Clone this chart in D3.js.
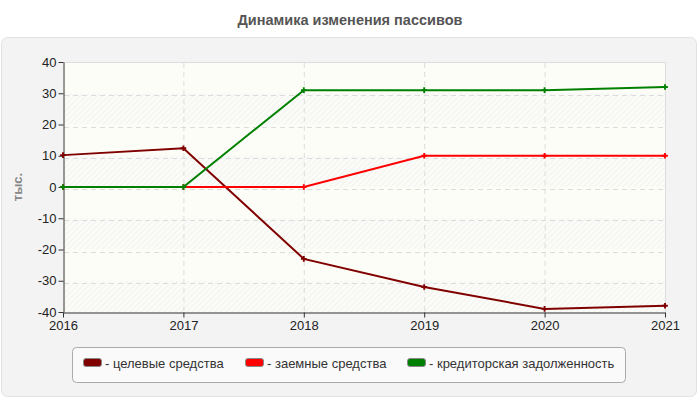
<!DOCTYPE html>
<html>
<head>
<meta charset="utf-8">
<script src="https://cdn.jsdelivr.net/npm/d3@7"></script>
<style>
  body { margin: 0; background: #fff; }
  text { font-family: "Liberation Sans", Arial, sans-serif; }
</style>
</head>
<body>
<svg id="chart" width="700" height="400"></svg>
<script>
const years = [2016, 2017, 2018, 2019, 2020, 2021];
const yTicks = [-40, -30, -20, -10, 0, 10, 20, 30, 40];
const targetFunds = [10.2, 12.4, -23, -32, -39, -38];
const borrowedFunds = [0, 0, 0, 10, 10, 10];
const payables = [0, 0, 31, 31, 31, 32];
const seriesNames = ["- целевые средства", "- заемные средства", "- кредиторская задолженность"];
const seriesColors = ["#800000", "#ff0000", "#008000"];

const series = [targetFunds, borrowedFunds, payables].map((v, i) => ({
  name: seriesNames[i], color: seriesColors[i], values: v
}));

const FONT = "'Liberation Sans', Arial, sans-serif";
const svg = d3.select("#chart");

// outer panel
svg.append("rect")
  .attr("x", 1.5).attr("y", 37.5).attr("width", 695).attr("height", 359)
  .attr("rx", 6).attr("fill", "#f3f3f3").attr("stroke", "#e2e2e2");

svg.append("text")
  .attr("x", 350).attr("y", 25)
  .attr("text-anchor", "middle")
  .attr("font-size", 14.5).attr("font-weight", "bold").attr("fill", "#555")
  .text("Динамика изменения пассивов");

const x = d3.scalePoint().domain(years).range([63, 665]);
const y = d3.scaleLinear().domain([-40, 40]).range([312, 62]);

// hatch pattern
const defs = svg.append("defs");
const pat = defs.append("pattern")
  .attr("id", "hatch").attr("width", 4).attr("height", 4)
  .attr("patternUnits", "userSpaceOnUse")
  .attr("patternTransform", "rotate(45)");
pat.append("rect").attr("width", 4).attr("height", 4).attr("fill", "#fbfbf8");
pat.append("line").attr("x1", 0).attr("y1", 0).attr("x2", 0).attr("y2", 4)
  .attr("stroke", "#ececec").attr("stroke-width", 1.2);

const plot = svg.append("g");
plot.append("rect")
  .attr("x", 63).attr("y", 62).attr("width", 602).attr("height", 250)
  .attr("fill", "#fdfdf7");

// alternating bands
plot.selectAll(".band")
  .data(yTicks.slice(0, -1).filter((d, i) => i % 2 === 0))
  .enter().append("rect")
  .attr("x", 63).attr("width", 602)
  .attr("y", d => y(d + 10)).attr("height", d => y(d) - y(d + 10))
  .attr("fill", "url(#hatch)");

// plot border top/right
plot.append("path")
  .attr("d", `M63,${y(40) + 0.5}H${665.5}V312`)
  .attr("fill", "none").attr("stroke", "#dddddd");

// grid
plot.selectAll(".hgrid")
  .data(yTicks.slice(1, -1))
  .enter().append("line")
  .attr("x1", 64).attr("x2", 665)
  .attr("y1", d => Math.round(y(d)) + 2.5).attr("y2", d => Math.round(y(d)) + 2.5)
  .attr("stroke", "#dcdcdc").attr("stroke-dasharray", "5,4");

plot.selectAll(".vgrid")
  .data(years.slice(1, -1))
  .enter().append("line")
  .attr("x1", d => x(d) + 0.5).attr("x2", d => x(d) + 0.5)
  .attr("y1", 63).attr("y2", 312)
  .attr("stroke", "#dcdcdc").attr("stroke-dasharray", "5,4");

// axes
const yAxis = svg.append("g")
  .attr("transform", "translate(63.5,0)")
  .call(d3.axisLeft(y).tickValues(yTicks).tickSize(5).tickSizeOuter(0).tickFormat(d => String(d)));
const xAxis = svg.append("g")
  .attr("transform", "translate(0,312.5)")
  .call(d3.axisBottom(x).tickSize(5).tickSizeOuter(0).tickFormat(d => String(d)));

[yAxis, xAxis].forEach(a => {
  a.attr("font-family", FONT).attr("font-size", 13);
  a.select(".domain").attr("stroke", "#333");
  a.selectAll(".tick line").attr("stroke", "#333");
  a.selectAll(".tick text").attr("fill", "#222");
});
yAxis.selectAll(".tick text").attr("x", -7);
xAxis.selectAll(".tick text").attr("y", 8);

svg.append("text")
  .attr("transform", "translate(22,187) rotate(-90)")
  .attr("text-anchor", "middle")
  .attr("font-size", 13).attr("font-weight", "bold").attr("fill", "#888")
  .text("тыс.");

// lines
const line = d3.line()
  .x((d, i) => x(years[i]))
  .y(d => y(d));

const sg = svg.append("g").selectAll("g")
  .data(series)
  .enter().append("g");

sg.append("path")
  .attr("d", d => line(d.values))
  .attr("fill", "none")
  .attr("stroke", d => d.color)
  .attr("stroke-width", 2);

sg.selectAll("path.mark")
  .data(d => d.values.map((v, i) => ({ v, i, color: d.color })))
  .enter().append("path")
  .attr("class", "mark")
  .attr("d", d3.symbol(d3.symbolCross, 18))
  .attr("transform", d => `translate(${x(years[d.i])},${y(d.v)})`)
  .attr("fill", d => d.color);

// legend
const legend = svg.append("g");
legend.append("rect")
  .attr("x", 72.5).attr("y", 347.5).attr("width", 553).attr("height", 35)
  .attr("rx", 4).attr("fill", "#fafafa").attr("stroke", "#aaaaaa");

const legendX = [83, 245, 407];
const li = legend.selectAll(".item")
  .data(series)
  .enter().append("g")
  .attr("transform", (d, i) => `translate(${legendX[i]},358)`);

li.append("rect")
  .attr("x", 0.5).attr("y", 0.5).attr("width", 18).attr("height", 8)
  .attr("rx", 2.5)
  .attr("fill", d => d.color).attr("stroke", "#888");

li.append("text")
  .attr("x", 22).attr("y", 9.5)
  .attr("font-size", 13).attr("fill", "#333")
  .text(d => d.name);
</script>
</body>
</html>
